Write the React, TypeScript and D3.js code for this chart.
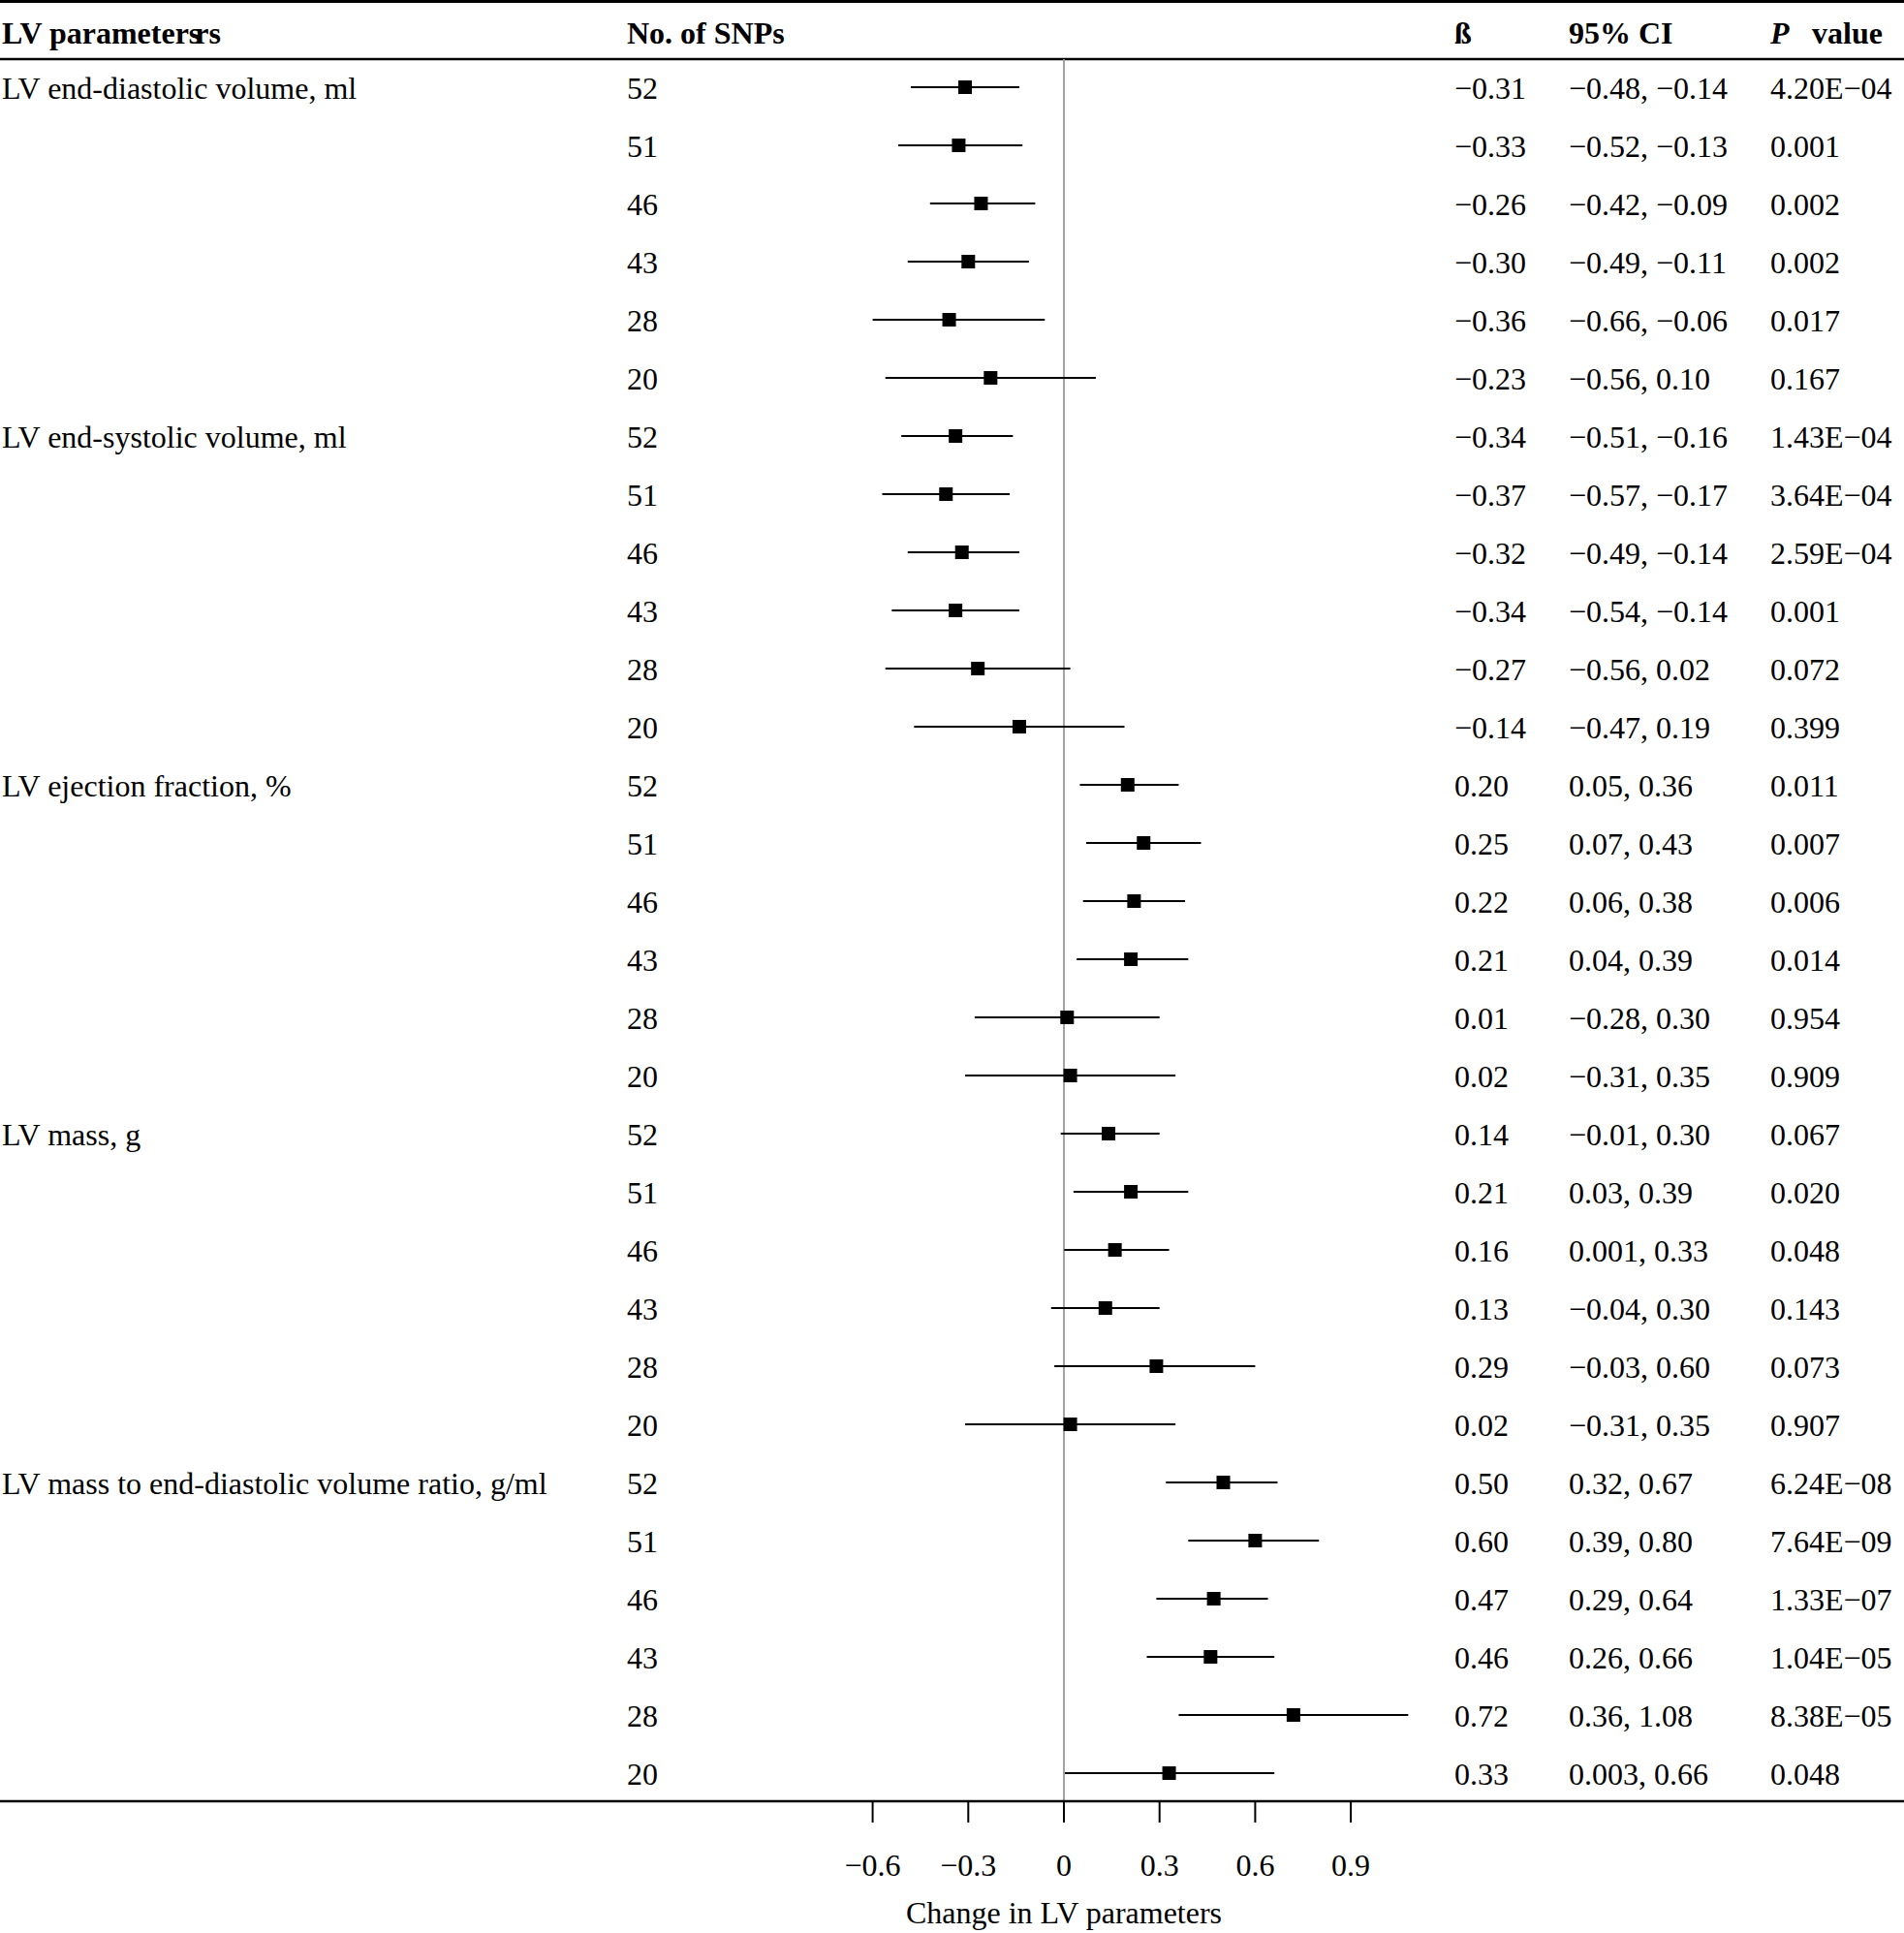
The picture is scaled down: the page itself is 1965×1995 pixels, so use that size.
import React, { useEffect } from "react";
import * as d3 from "d3";

const groups = [
  "LV end-diastolic volume, ml",
  "LV end-systolic volume, ml",
  "LV ejection fraction, %",
  "LV mass, g",
  "LV mass to end-diastolic volume ratio, g/ml",
];
const snpCounts = [52, 51, 46, 43, 28, 20];

const betaEDV = [-0.31, -0.33, -0.26, -0.30, -0.36, -0.23];
const loEDV = [-0.48, -0.52, -0.42, -0.49, -0.66, -0.56];
const hiEDV = [-0.14, -0.13, -0.09, -0.11, -0.06, 0.10];
const pEDV = ["4.20E\u221204", "0.001", "0.002", "0.002", "0.017", "0.167"];

const betaESV = [-0.34, -0.37, -0.32, -0.34, -0.27, -0.14];
const loESV = [-0.51, -0.57, -0.49, -0.54, -0.56, -0.47];
const hiESV = [-0.16, -0.17, -0.14, -0.14, 0.02, 0.19];
const pESV = ["1.43E\u221204", "3.64E\u221204", "2.59E\u221204", "0.001", "0.072", "0.399"];

const betaEF = [0.20, 0.25, 0.22, 0.21, 0.01, 0.02];
const loEF = [0.05, 0.07, 0.06, 0.04, -0.28, -0.31];
const hiEF = [0.36, 0.43, 0.38, 0.39, 0.30, 0.35];
const pEF = ["0.011", "0.007", "0.006", "0.014", "0.954", "0.909"];

const betaMass = [0.14, 0.21, 0.16, 0.13, 0.29, 0.02];
const loMass = [-0.01, 0.03, 0.001, -0.04, -0.03, -0.31];
const hiMass = [0.30, 0.39, 0.33, 0.30, 0.60, 0.35];
const pMass = ["0.067", "0.020", "0.048", "0.143", "0.073", "0.907"];

const betaRatio = [0.50, 0.60, 0.47, 0.46, 0.72, 0.33];
const loRatio = [0.32, 0.39, 0.29, 0.26, 0.36, 0.003];
const hiRatio = [0.67, 0.80, 0.64, 0.66, 1.08, 0.66];
const pRatio = ["6.24E\u221208", "7.64E\u221209", "1.33E\u221207", "1.04E\u221205", "8.38E\u221205", "0.048"];

const xTicks = [-0.6, -0.3, 0, 0.3, 0.6, 0.9];

const seriesBeta = [betaEDV, betaESV, betaEF, betaMass, betaRatio];
const seriesLo = [loEDV, loESV, loEF, loMass, loRatio];
const seriesHi = [hiEDV, hiESV, hiEF, hiMass, hiRatio];
const seriesP = [pEDV, pESV, pEF, pMass, pRatio];

const W = 1965;
const H = 1995;
const FONT = "'Liberation Serif', 'Times New Roman', serif";

const fmtNum = (v: number) => {
  const s = Math.abs(v) < 0.01 && v !== 0 ? Math.abs(v).toFixed(3) : Math.abs(v).toFixed(2);
  return (v < 0 ? "\u2212" : "") + s;
};
const fmtTick = (v: number) => (v === 0 ? "0" : (v < 0 ? "\u2212" : "") + Math.abs(v).toFixed(1));

type Row = { group: string | null; n: number; beta: number; lo: number; hi: number; p: string };
const rows: Row[] = [];
groups.forEach((g, gi) => {
  snpCounts.forEach((n, i) => {
    rows.push({
      group: i === 0 ? g : null,
      n,
      beta: seriesBeta[gi][i],
      lo: seriesLo[gi][i],
      hi: seriesHi[gi][i],
      p: seriesP[gi][i],
    });
  });
});

export default function App() {
  useEffect(() => {
    document.body.style.margin = "0";
  }, []);

  const x = d3.scaleLinear().domain([0, 0.9]).range([1098, 1098 + 0.9 * 329]);
  const y = d3.scaleLinear().domain([0, rows.length - 1]).range([90, 1830]);
  const xMin = xTicks[0];
  const sq = 14;
  const axisY = 1859;
  const headerLineY = 61;
  const fs = 32;

  const colGroup = 2;
  const colN = 647;
  const colBeta = 1501;
  const colCI = 1619;
  const colP = 1827;

  return (
    <svg width={W} height={H} style={{ display: "block", background: "#fff" }} fontFamily={FONT}>
      <rect x={0} y={0} width={W} height={H} fill="#fff" />
      {/* top rules */}
      <line x1={0} x2={W} y1={1.5} y2={1.5} stroke="#000" strokeWidth={3} />
      <line x1={0} x2={W} y1={headerLineY} y2={headerLineY} stroke="#000" strokeWidth={2.5} />
      {/* header */}
      <g fontWeight="bold" fontSize={fs} fill="#000">
        <text x={colGroup} y={45}>
          LV parameters<tspan dx={-6}>rs</tspan>
        </text>
        <text x={colN} y={45}>No. of SNPs</text>
        <text x={colBeta} y={45}>ß</text>
        <text x={colCI} y={45}>95% CI</text>
        <text x={colP} y={45}>
          <tspan fontStyle="italic">P</tspan>
          <tspan x={1870}>value</tspan>
        </text>
      </g>
      {/* zero line */}
      <line x1={x(0)} x2={x(0)} y1={headerLineY} y2={axisY} stroke="#999" strokeWidth={1.8} />
      {/* rows */}
      <g fontSize={fs} fill="#000">
        {rows.map((r, i) => {
          const cy = y(i);
          const by = cy + 12;
          return (
            <g key={i}>
              {r.group && <text x={colGroup} y={by}>{r.group}</text>}
              <text x={colN} y={by}>{r.n}</text>
              <line x1={x(Math.max(r.lo, xMin))} x2={x(r.hi)} y1={cy} y2={cy} stroke="#000" strokeWidth={2} />
              <rect x={x(r.beta) - sq / 2} y={cy - sq / 2} width={sq} height={sq} fill="#000" />
              <text x={colBeta} y={by}>{fmtNum(r.beta)}</text>
              <text x={colCI} y={by}>{fmtNum(r.lo) + ", " + fmtNum(r.hi)}</text>
              <text x={colP} y={by}>{r.p}</text>
            </g>
          );
        })}
      </g>
      {/* bottom axis */}
      <line x1={0} x2={W} y1={axisY} y2={axisY} stroke="#000" strokeWidth={2.5} />
      <g fontSize={fs} fill="#000">
        {xTicks.map((t) => (
          <g key={t}>
            <line x1={x(t)} x2={x(t)} y1={axisY} y2={axisY + 22} stroke="#000" strokeWidth={2} />
            <text x={x(t)} y={1936} textAnchor="middle">{fmtTick(t)}</text>
          </g>
        ))}
        <text x={x(0)} y={1985} textAnchor="middle">Change in LV parameters</text>
      </g>
    </svg>
  );
}
